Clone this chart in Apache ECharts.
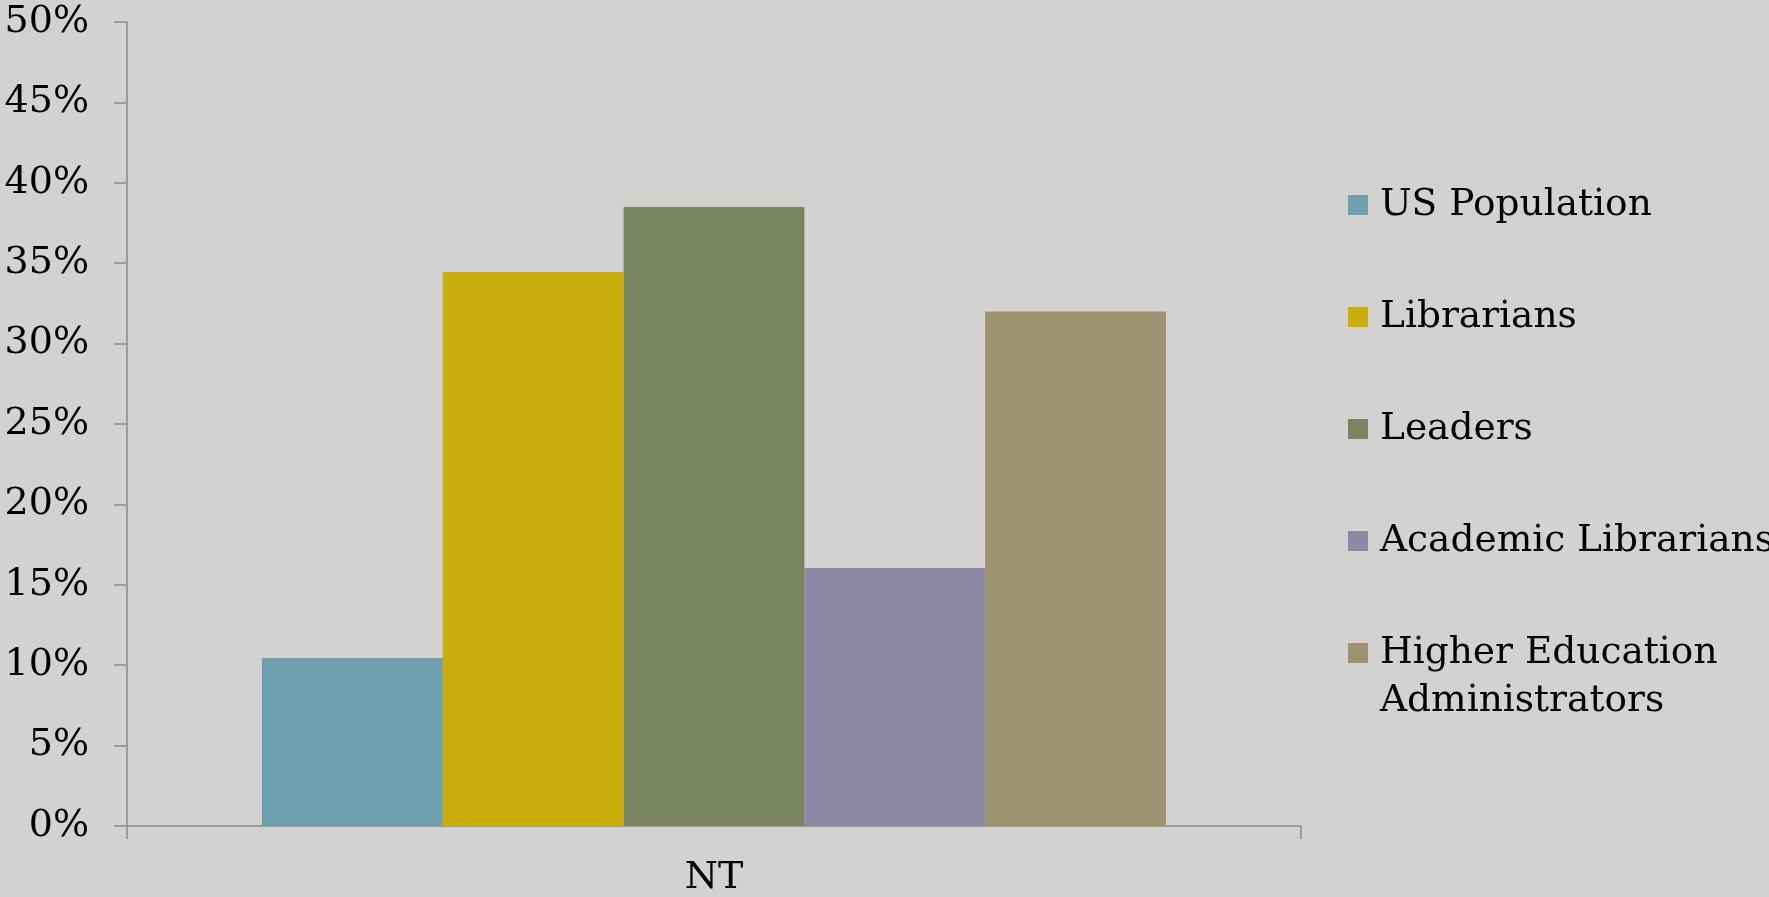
<!DOCTYPE html>
<html>
<head>
<meta charset="utf-8">
<script src="https://cdn.jsdelivr.net/npm/echarts@6/dist/echarts.min.js"></script>
<style>
html,body{margin:0;padding:0;background:#d3d2d0;}
#chart{width:1769px;height:897px;}
</style>
</head>
<body>
<div id="chart"></div>
<script>
const categories = ['NT'];
const seriesNames = ['US Population', 'Librarians', 'Leaders', 'Academic Librarians', 'Higher Education Administrators'];
const usPopulation = [10.45];
const librarians = [34.45];
const leaders = [38.5];
const academicLibrarians = [16.05];
const higherEdAdmins = [32.0];
const yTicks = [0, 5, 10, 15, 20, 25, 30, 35, 40, 45, 50];

const colors = ['#6fa0b0', '#cbae0c', '#788560', '#8d89a5', '#9f9271'];
const values = [usPopulation, librarians, leaders, academicLibrarians, higherEdAdmins];
const FONT = "'DejaVu Serif', serif";

const chart = echarts.init(document.getElementById('chart'));
chart.setOption({
  backgroundColor: '#d3d2d0',
  animation: false,
  grid: {left: 127, right: 468, top: 22, bottom: 71, containLabel: false, outerBoundsMode: 'none'},
  legend: [{
    orient: 'vertical',
    left: 1348,
    top: 181,
    padding: 0,
    itemWidth: 20,
    itemHeight: 20,
    itemGap: 64,
    icon: 'rect',
    data: seriesNames.slice(0, 4),
    textStyle: {fontFamily: FONT, fontSize: 37.5, color: '#000', lineHeight: 48, padding: [0, 0, 0, 7]}
  }, {
    orient: 'vertical',
    left: 1348,
    top: 629,
    padding: 0,
    itemWidth: 20,
    itemHeight: 68,
    icon: 'path://M0,0L20,0L20,20L0,20Z M0,68L1,68Z',
    data: seriesNames.slice(4),
    formatter: function (n) { return 'Higher Education\nAdministrators'; },
    textStyle: {fontFamily: FONT, fontSize: 37.5, color: '#000', lineHeight: 48, padding: [0, 0, 0, 7]}
  }],
  xAxis: {
    type: 'category',
    data: categories,
    axisLine: {lineStyle: {color: '#8a8a8a', width: 1.5}},
    axisTick: {show: true, length: 13, lineStyle: {color: '#8a8a8a', width: 1.5}},
    axisLabel: {fontFamily: FONT, fontSize: 38, color: '#000', margin: 33}
  },
  yAxis: {
    type: 'value',
    min: yTicks[0],
    max: yTicks[yTicks.length - 1],
    interval: 5,
    splitLine: {show: false},
    axisLine: {show: true, lineStyle: {color: '#8a8a8a', width: 1.5}},
    axisTick: {show: true, length: 13, lineStyle: {color: '#8a8a8a', width: 1.5}},
    axisLabel: {fontFamily: FONT, fontSize: 38, color: '#000', margin: 38, formatter: '{value}%'}
  },
  series: seriesNames.map(function (name, i) {
    return {
      name: name,
      type: 'bar',
      data: values[i],
      barGap: '0%',
      barCategoryGap: '23%',
      itemStyle: {color: colors[i]}
    };
  })
});
</script>
</body>
</html>
